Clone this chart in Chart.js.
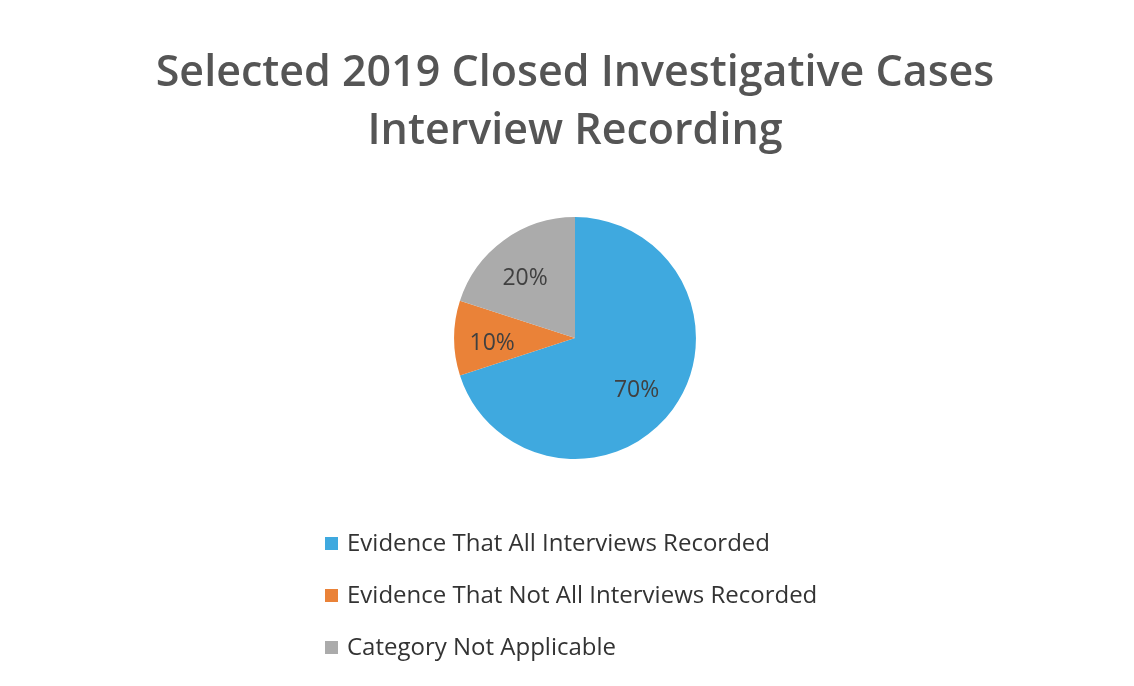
<!DOCTYPE html>
<html>
<head>
  <title>Selected 2019 Closed Investigative Cases</title>
  <style>
    body { margin: 0; background: #fff; }
    #wrap { width: 1134px; height: 686px; }
  </style>
</head>
<body>
<div id="wrap">
  <canvas id="recChart"></canvas>
</div>

<script src="https://cdn.jsdelivr.net/npm/chart.js"></script>
<script>
  const titleLines = ['Selected 2019 Closed Investigative Cases', 'Interview Recording'];
  const categories = [
    'Evidence That All Interviews Recorded',
    'Evidence That Not All Interviews Recorded',
    'Category Not Applicable'
  ];
  const shares = [70, 10, 20];
  const sliceColors = ['#3fa9df', '#ea8238', '#ababab'];

  // percentage text inside each slice, pushed out toward the rim
  const sliceLabels = {
    id: 'sliceLabels',
    afterDatasetsDraw(chart) {
      const ctx = chart.ctx;
      const meta = chart.getDatasetMeta(0);
      ctx.save();
      ctx.font = "23px 'Open Sans', sans-serif";
      ctx.fillStyle = '#404040';
      ctx.textAlign = 'center';
      ctx.textBaseline = 'middle';
      meta.data.forEach((arc, i) => {
        const a = arc.getProps(['x', 'y', 'startAngle', 'endAngle', 'outerRadius']);
        const mid = (a.startAngle + a.endAngle) / 2;
        const r = a.outerRadius * 0.66;
        ctx.fillText(shares[i] + '%', a.x + Math.cos(mid) * r - 3, a.y + Math.sin(mid) * r + 5);
      });
      ctx.restore();
    }
  };

  // stacked legend under the pie
  const stackedLegend = {
    id: 'stackedLegend',
    afterDraw(chart) {
      const ctx = chart.ctx;
      const x0 = 325;
      let y = 544;
      ctx.save();
      ctx.font = "24px 'Open Sans', sans-serif";
      ctx.textBaseline = 'middle';
      categories.forEach((name, i) => {
        ctx.fillStyle = sliceColors[i];
        ctx.fillRect(x0, y - 7, 13, 13);
        ctx.fillStyle = '#333';
        ctx.fillText(name, x0 + 22, y);
        y += 52;
      });
      ctx.restore();
    }
  };

  new Chart(document.getElementById('recChart'), {
    type: 'pie',
    data: {
      labels: categories,
      datasets: [{
        data: shares,
        backgroundColor: sliceColors,
        borderWidth: 0
      }]
    },
    options: {
      responsive: true,
      maintainAspectRatio: false,
      animation: false,
      layout: { padding: { top: 0, bottom: 227, left: 16, right: 0 } },
      plugins: {
        legend: { display: false },
        tooltip: { enabled: false },
        title: {
          display: true,
          text: titleLines,
          color: '#555',
          font: { family: "'Open Sans', sans-serif", size: 43, weight: '600', lineHeight: 1.35 },
          padding: { top: 45, bottom: 56 }
        }
      }
    },
    plugins: [sliceLabels, stackedLegend]
  });
</script>
</body>
</html>
